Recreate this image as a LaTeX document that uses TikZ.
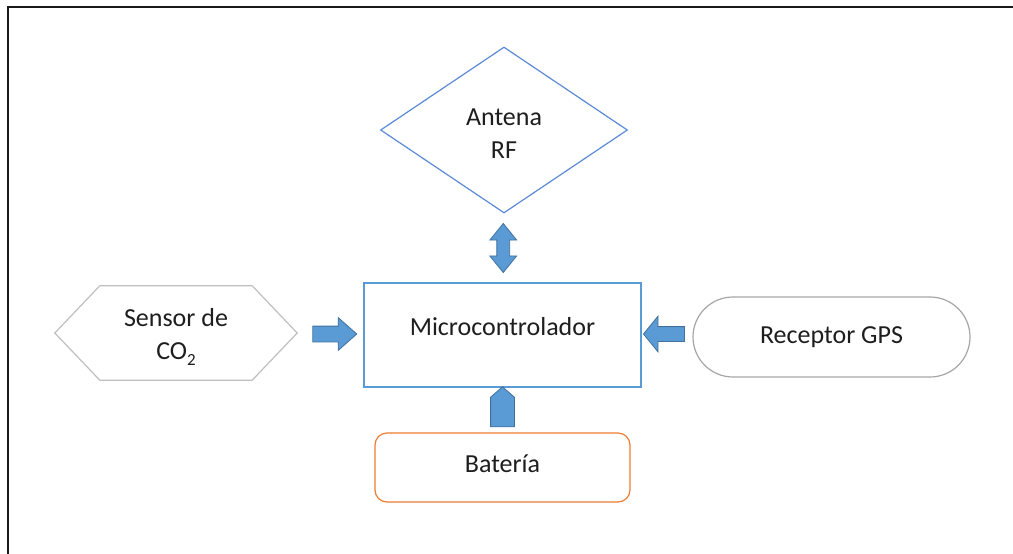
\documentclass[tikz,border=0pt]{standalone}
\usepackage{fontspec}
\setmainfont{Carlito}
\usetikzlibrary{shapes.geometric,shapes.misc,shapes.arrows,calc}

\definecolor{diamblue}{HTML}{5B8BD6}
\definecolor{boxblue}{HTML}{5B9BD5}
\definecolor{arrowfill}{HTML}{5B9BD5}
\definecolor{arrowedge}{HTML}{41719C}
\definecolor{hexgray}{HTML}{BFBFBF}
\definecolor{pillgray}{HTML}{A6A6A6}
\definecolor{batorange}{HTML}{ED7D31}
\definecolor{ink}{HTML}{1E1E1E}

\tikzset{
  every node/.style={font=\fontsize{26}{33}\selectfont, text=ink},
  shapeline/.style={line width=1.2pt},
  blockarrow/.style={fill=arrowfill, draw=arrowedge, line width=0.8pt, inner xsep=0pt},
  framedge/.style={line width=2pt, draw=black!90},
}

\begin{document}
\begin{tikzpicture}[x=1pt, y=-1pt]
\useasboundingbox (0,0) rectangle (1013,554);
\fill[white] (0,0) rectangle (1013,554);
\draw[framedge] (7.5,554) -- (7.5,6.5) -- (1013,6.5);

% Antenna (diamond)
\node[diamond, draw=diamblue, shapeline, minimum width=247pt, minimum height=166pt, inner sep=0pt,
      label={[yshift=-4pt, align=center]center:Antena\\RF}] (ant) at (504,130) {};

% Microcontroller box
\node[draw=boxblue, shapeline, minimum width=277pt, minimum height=104pt, inner sep=0pt,
      label={[yshift=8pt]center:Microcontrolador}] (mcu) at (502.5,335) {};

% CO2 sensor (hexagon)
\node[minimum width=242pt, minimum height=94pt, inner sep=0pt,
      label={[yshift=-4pt, align=center]center:Sensor de\\CO\raisebox{-0.2em}{\fontsize{17}{17}\selectfont 2}}] (co2) at (176,333) {};
\draw[draw=hexgray, shapeline, line join=miter]
  (co2.west) -- ($(co2.north west)+(45,0)$) -- ($(co2.north east)+(-45,0)$) -- (co2.east)
  -- ($(co2.south east)+(-45,0)$) -- ($(co2.south west)+(45,0)$) -- cycle;

% GPS receiver (pill)
\node[rounded rectangle, draw=pillgray, shapeline, minimum width=277pt, minimum height=80pt, inner sep=0pt]
  (gps) at (831.5,337) {Receptor GPS};

% Battery
\node[draw=batorange, shapeline, rounded corners=12pt, minimum width=255pt, minimum height=69pt, inner sep=0pt,
      label={[yshift=4pt]center:Batería}] (bat) at (502.5,467.5) {};

% Block arrows between the blocks
\node[blockarrow, single arrow, inner ysep=7.5pt, single arrow head extend=8.5pt,
      single arrow tip angle=83, minimum height=44pt]
  (a1) at ($(co2.east)!0.5!(mcu.west)$) {};
\node[blockarrow, single arrow, inner ysep=7pt, single arrow head extend=10.5pt,
      single arrow tip angle=102, minimum height=41pt, rotate=180]
  (a2) at ($(gps.west)!0.5!(mcu.east)+(0,-2)$) {};
\node[blockarrow, double arrow, inner ysep=6pt, double arrow head extend=7pt,
      double arrow tip angle=78, minimum height=49pt, rotate=90]
  (a3) at ($(ant.south)!0.5!(mcu.north)$) {};
\node[blockarrow, single arrow, inner ysep=11.5pt, single arrow head extend=0pt,
      single arrow tip angle=98, minimum height=40pt, rotate=90]
  (a4) at ($(bat.north)!0.5!(mcu.south)+(0,2)$) {};
\end{tikzpicture}
\end{document}
